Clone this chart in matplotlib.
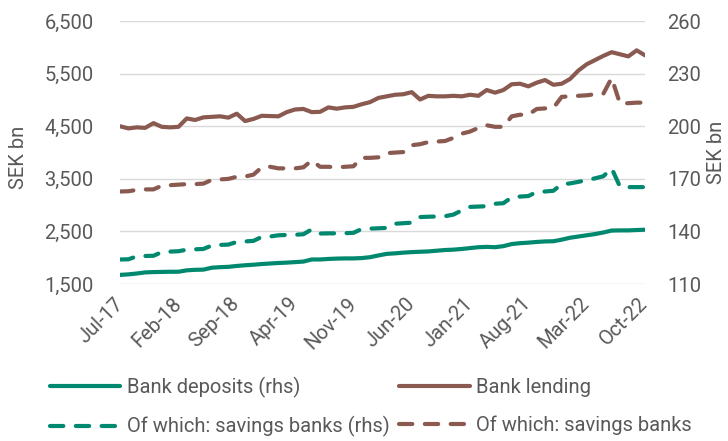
import matplotlib
matplotlib.use("Agg")
from matplotlib import pyplot as plt
import numpy as np

plt.rcParams['font.family'] = ['Roboto', 'DejaVu Sans']

# monthly, Jul-17 .. Oct-22
bank_lending = [4500, 4460, 4480, 4470, 4560, 4490, 4480, 4490, 4650, 4620,
                4670, 4680, 4690, 4665, 4740, 4600, 4640, 4700, 4695, 4690,
                4770, 4820, 4830, 4770, 4775, 4860, 4835, 4860, 4870, 4920,
                4960, 5040, 5070, 5100, 5110, 5150, 5010, 5080, 5070, 5070,
                5080, 5070, 5100, 5080, 5190, 5140, 5190, 5300, 5310, 5260,
                5330, 5380, 5290, 5310, 5400, 5560, 5680, 5760, 5840, 5910,
                5870, 5830, 5945, 5850]
lending_savings = [3260, 3265, 3290, 3300, 3300, 3370, 3380, 3390, 3400, 3400,
                   3410, 3480, 3490, 3500, 3540, 3545, 3580, 3720, 3730, 3700,
                   3700, 3700, 3720, 3850, 3730, 3730, 3720, 3730, 3740, 3900,
                   3900, 3910, 3990, 4000, 4010, 4140, 4160, 4200, 4210, 4220,
                   4280, 4360, 4400, 4470, 4520, 4490, 4490, 4690, 4720, 4720,
                   4830, 4840, 4850, 5060, 5070, 5080, 5090, 5110, 5120, 5420,
                   4930, 4940, 4950, 4950]
bank_deposits = [115.2, 115.5, 116.0, 116.6, 116.8, 116.9, 117.0, 117.0, 117.8, 118.1,
                 118.2, 119.3, 119.6, 119.8, 120.3, 120.7, 121.0, 121.4, 121.7, 122.0,
                 122.2, 122.5, 122.8, 124.0, 124.0, 124.3, 124.5, 124.6, 124.6, 124.8,
                 125.3, 126.3, 127.2, 127.5, 127.9, 128.2, 128.4, 128.6, 129.0, 129.4,
                 129.6, 130.0, 130.5, 131.0, 131.2, 131.0, 131.6, 132.8, 133.3, 133.6,
                 134.0, 134.3, 134.4, 135.3, 136.4, 137.1, 137.8, 138.5, 139.4, 140.5,
                 140.6, 140.6, 140.8, 141.0]
deposits_savings = [124.0, 124.1, 125.8, 126.0, 126.1, 128.2, 128.5, 128.7, 129.6, 129.8,
                    130.0, 132.0, 132.3, 132.5, 134.0, 134.3, 134.6, 136.9, 137.1, 137.8,
                    138.0, 138.1, 138.4, 141.2, 138.8, 138.9, 138.9, 139.0, 139.2, 141.4,
                    141.6, 141.8, 142.0, 144.4, 144.7, 145.0, 148.2, 148.4, 148.5, 148.7,
                    149.6, 152.0, 154.0, 154.2, 154.4, 155.8, 156.1, 159.5, 159.9, 160.2,
                    162.5, 162.8, 163.2, 167.0, 167.4, 168.3, 169.3, 170.3, 171.5, 176.0,
                    165.5, 165.3, 165.3, 165.3]
tick_labels = ['Jul-17', 'Feb-18', 'Sep-18', 'Apr-19', 'Nov-19',
               'Jun-20', 'Jan-21', 'Aug-21', 'Mar-22', 'Oct-22']

GREEN = '#00896F'
BROWN = '#8A5A51'
GREY = '#595959'
LW = 3.0
DASH = (3.2, 3.0)
FS = 14.5

x = np.arange(len(bank_lending))

fig = plt.figure(figsize=(7.28, 4.41), dpi=100)
ax = fig.add_axes([0.165, 0.356, 0.721, 0.596])
ax2 = ax.twinx()

l_lend, = ax.plot(x, bank_lending, color=BROWN, lw=LW, solid_capstyle='round',
                  solid_joinstyle='round', label='Bank lending')
l_lsav, = ax.plot(x, lending_savings, color=BROWN, lw=LW, dashes=DASH,
                  dash_capstyle='round', label='Of which: savings banks')
l_dep, = ax2.plot(x, bank_deposits, color=GREEN, lw=LW, solid_capstyle='round',
                  solid_joinstyle='round', label='Bank deposits (rhs)')
l_dsav, = ax2.plot(x, deposits_savings, color=GREEN, lw=LW, dashes=DASH,
                   dash_capstyle='round', label='Of which: savings banks (rhs)')

ax.set_xlim(0, len(x) - 1)
ax.set_ylim(1500, 6500)
ax2.set_ylim(110, 260)
ax.set_yticks(np.arange(1500, 6501, 1000))
ax.set_yticklabels([f'{v:,}' for v in range(1500, 6501, 1000)])
ax2.set_yticks(np.arange(110, 261, 30))

ax.set_xticks(np.arange(0, len(x), 7))
ax.set_xticklabels(tick_labels, rotation=45, ha='right', va='center',
                   rotation_mode='anchor')

ax.grid(axis='y', color='#D9D9D9', lw=1)
ax.set_axisbelow(True)
for a in (ax, ax2):
    for s in a.spines.values():
        s.set_visible(False)
    a.tick_params(length=0, labelsize=FS, colors=GREY)
ax.tick_params(axis='y', pad=19)
ax.tick_params(axis='x', pad=12)
ax2.tick_params(axis='y', pad=16)

# axis titles on both sides
fig.text(18.5 / 728, 1 - 157 / 441, 'SEK bn', rotation=90, ha='center',
         va='center', fontsize=FS, color=GREY)
fig.text(717 / 728, 1 - 152 / 441, 'SEK bn', rotation=90, ha='center',
         va='center', fontsize=FS, color=GREY)

fig.legend(handles=[l_dep, l_dsav, l_lend, l_lsav], ncol=2, frameon=False,
           loc='upper left', bbox_to_anchor=(50 / 728, 1 - 377 / 441),
           fontsize=FS, handlelength=3.5, handletextpad=0.3,
           columnspacing=0.5, labelspacing=0.9, labelcolor=GREY,
           borderpad=0, borderaxespad=0)

fig.savefig('out.png', dpi=100)
